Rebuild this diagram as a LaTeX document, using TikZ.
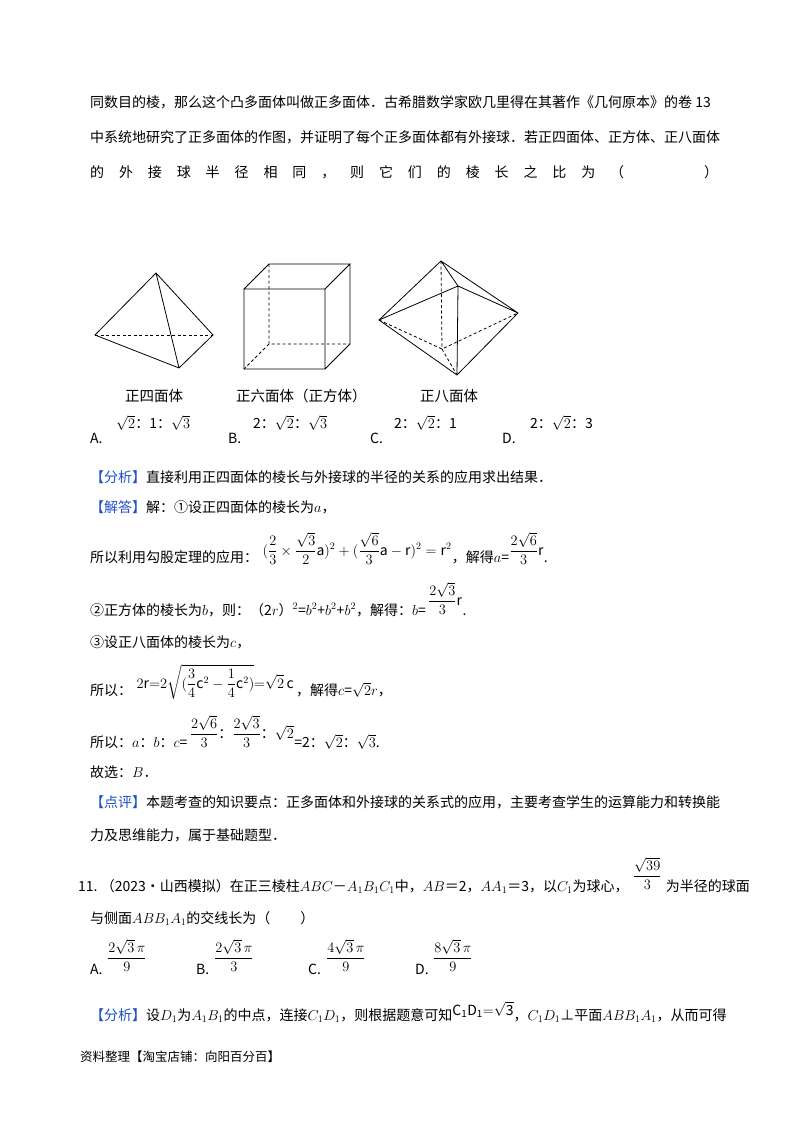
\documentclass[tikz,border=0pt]{standalone}
\usepackage{amsmath}
\usepackage{fontspec}
\setmainfont{Noto Sans CJK SC}
\definecolor{hd}{RGB}{30,80,200}
\begin{document}
\begin{tikzpicture}[x=1pt,y=-1pt,
  tx/.style={anchor=base west,inner sep=0pt,font=\fontsize{14}{16}\selectfont},
  sm/.style={anchor=base west,inner sep=0pt,font=\fontsize{14.5}{16}\selectfont},
  ft/.style={anchor=base west,inner sep=0pt,font=\fontsize{12.5}{14}\selectfont},
  ed/.style={line width=0.8pt},
  hid/.style={line width=0.8pt,dash pattern=on 3pt off 2.5pt}]
\useasboundingbox[fill=white] (0,0) rectangle (800,1132);
\node[tx] (l1) at (90,107) {同数目的棱，那么这个凸多面体叫做正多面体．古希腊数学家欧几里得在其著作《几何原本》的卷 13};
\node[tx] (l2) at (90,142) {中系统地研究了正多面体的作图，并证明了每个正多面体都有外接球．若正四面体、正方体、正八面体};
\node[tx] (l3) at (90,177) {\hbox to 628pt{的\hfill 外\hfill 接\hfill 球\hfill 半\hfill 径\hfill 相\hfill 同\hfill ，\hfill 则\hfill 它\hfill 们\hfill 的\hfill 棱\hfill 长\hfill 之\hfill 比\hfill 为\hfill （\hskip 80pt）}};
% tetrahedron
\coordinate (ta) at (156,273); \coordinate (tl) at (95,335);
\coordinate (tr) at (213,335); \coordinate (tf) at (179,368);
\draw[ed] (ta)--(tl)--(tf)--(tr)--cycle (ta)--(tf);
\draw[hid] (tl)--(tr);
% cube
\coordinate (c1) at (244,289); \coordinate (c2) at (325,289);
\coordinate (c3) at (325,369); \coordinate (c4) at (244,369);
\coordinate (c5) at (269,264); \coordinate (c6) at (350,264);
\coordinate (c7) at (350,344); \coordinate (c8) at (269,344);
\draw[ed] (c1)--(c2)--(c3)--(c4)--cycle (c1)--(c5)--(c6)--(c2) (c6)--(c7)--(c3);
\draw[hid] (c5)--(c8)--(c7) (c8)--(c4);
% octahedron
\coordinate (ot) at (441,261); \coordinate (ob) at (457,375);
\coordinate (ol) at (379,320); \coordinate (or) at (518,313);
\coordinate (of) at (458,286); \coordinate (ok) at (442,349);
\draw[ed] (ot)--(ol)--(ob)--(or)--cycle (ot)--(of)--(ob) (ol)--(of)--(or);
\draw[hid] (ol)--(ok)--(or) (ot)--(ok)--(ob);
\node[sm] (n1) at (125,401) {正四面体};
\node[sm] (n2) at (236,401) {正六面体（正方体）};
\node[sm] (n3) at (420,401) {正八面体};
\node[tx] (oa) at (116,428) {$\sqrt2$：1：$\sqrt3$};
\node[tx] (ob1) at (253,428) {2：$\sqrt2$：$\sqrt3$};
\node[tx] (oc) at (394,428) {2：$\sqrt2$：1};
\node[tx] (od) at (530,428) {2：$\sqrt2$：3};
\node[tx] (la) at (90,443) {A.}; \node[tx] (lb) at (228,443) {B.};
\node[tx] (lc) at (370,443) {C.}; \node[tx] (ld) at (502,443) {D.};
\node[tx] (f1) at (90,482) {{\color{hd}【分析】}直接利用正四面体的棱长与外接球的半径的关系的应用求出结果．};
\node[tx] (j1) at (90,512) {{\color{hd}【解答】}解：①设正四面体的棱长为$a$，};
\node[tx] (j2) at (90,562) {所以利用勾股定理的应用：};
\node[tx] (j2m) at ([xshift=4pt,yshift=7pt]j2.base east) {$\displaystyle(\frac{2}{3}\times\frac{\sqrt3}{2}\mathrm{a})^2+(\frac{\sqrt6}{3}\mathrm{a}-\mathrm{r})^2=\mathrm{r}^2$};
\node[tx] (j2b) at ([yshift=-7pt]j2m.base east) {，解得$a$=};
\node[tx] (j2c) at ([yshift=7pt]j2b.base east) {$\displaystyle\frac{2\sqrt6}{3}\mathrm{r}$};
\node[tx] (j2d) at ([yshift=-7pt]j2c.base east) {.};
\node[tx] (j3) at (90,615) {②正方体的棱长为$b$，则：（2$r$）$^2$=$b^2$+$b^2$+$b^2$，解得：$b$=};
\node[tx] (j3m) at ([xshift=2pt,yshift=10pt]j3.base east) {$\displaystyle\frac{2\sqrt3}{3}\mathrm{r}$};
\node[tx] (j3d) at ([yshift=-10pt]j3m.base east) {.};
\node[tx] (j4) at (90,647) {③设正八面体的棱长为$c$，};
\node[tx] (j5) at (90,695) {所以：};
\node[tx] (j5m) at ([xshift=4pt,yshift=7pt]j5.base east) {$\displaystyle2\mathrm{r}{=}2\sqrt{(\frac34\mathrm{c}^2-\frac14\mathrm{c}^2)}{=}\sqrt2\,\mathrm{c}$};
\node[tx] (j5b) at ([xshift=2pt,yshift=-7pt]j5m.base east) {，解得$c$=$\sqrt2r$，};
\node[tx] (j6) at (90,747) {所以：$a$：$b$：$c$=};
\node[tx] (j6m) at ([xshift=2pt,yshift=9pt]j6.base east) {$\displaystyle\frac{2\sqrt6}{3}$：$\displaystyle\frac{2\sqrt3}{3}$：$\sqrt2$};
\node[tx] (j6b) at ([yshift=-9pt]j6m.base east) {=2：$\sqrt2$：$\sqrt3$.};
\node[tx] (j7) at (90,777) {故选：$B$．};
\node[tx] (p1) at (90,807) {{\color{hd}【点评】}本题考查的知识要点：正多面体和外接球的关系式的应用，主要考查学生的运算能力和转换能};
\node[tx] (p2) at (90,840) {力及思维能力，属于基础题型．};
\node[tx] (q1) at (78,891) {11.\ （2023•山西模拟）在正三棱柱$ABC$－$A_1B_1C_1$中，$AB$＝2，$AA_1$＝3，以$C_1$为球心，};
\node[tx] (q1m) at ([xshift=4pt,yshift=11pt]q1.base east) {$\displaystyle\frac{\sqrt{39}}{3}$};
\node[tx] (q1b) at ([xshift=4pt,yshift=-11pt]q1m.base east) {为半径的球面};
\node[tx] (q2) at (90,923) {与侧面$ABB_1A_1$的交线长为（\hskip 30pt）};
\node[tx] (qa) at (90,974) {A.}; \node[tx] (qam) at (107,962) {$\displaystyle\frac{2\sqrt3\,\pi}{9}$};
\node[tx] (qb) at (196,974) {B.}; \node[tx] (qbm) at (214,962) {$\displaystyle\frac{2\sqrt3\,\pi}{3}$};
\node[tx] (qc) at (308,974) {C.}; \node[tx] (qcm) at (326,962) {$\displaystyle\frac{4\sqrt3\,\pi}{9}$};
\node[tx] (qd) at (415,974) {D.}; \node[tx] (qdm) at (433,962) {$\displaystyle\frac{8\sqrt3\,\pi}{9}$};
\node[tx] (r1) at (90,1020) {{\color{hd}【分析】}设$D_1$为$A_1B_1$的中点，连接$C_1D_1$，则根据题意可知\raisebox{5pt}{$\mathrm{C_1D_1{=}\sqrt3}$}，$C_1D_1$⊥平面$ABB_1A_1$，从而可得};
\node[ft] (ftr) at (80,1061) {资料整理【淘宝店铺：向阳百分百】};
\end{tikzpicture}
\end{document}
